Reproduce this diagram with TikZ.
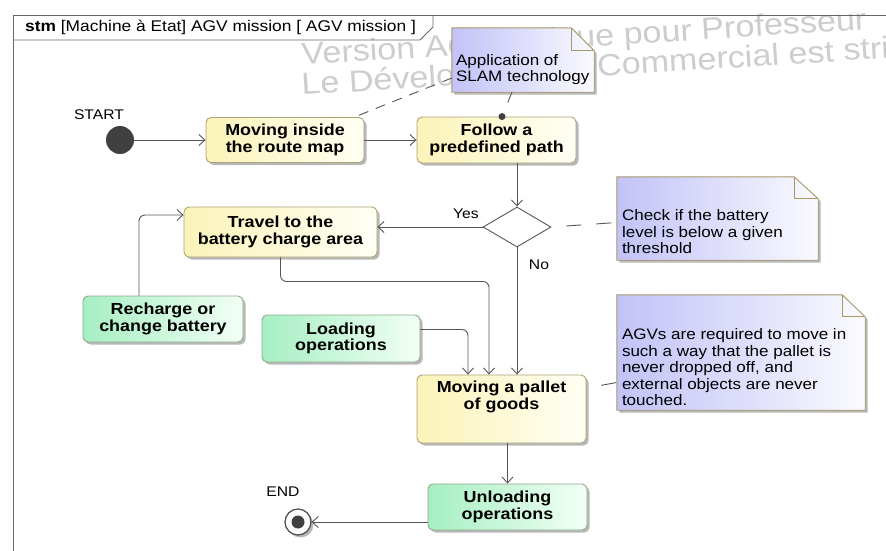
\documentclass[tikz,border=0pt]{standalone}
\usepackage{fontspec}
\newfontfamily\uifont{Liberation Sans}[FakeStretch=1.12]
\usetikzlibrary{arrows.meta,shapes.geometric,shadows,calc}
\definecolor{ln}{HTML}{555555}
\definecolor{frm}{HTML}{666666}
\definecolor{ylwL}{HTML}{FBF3B8}
\definecolor{ylwR}{HTML}{FFFFF4}
\definecolor{ylwB}{HTML}{ABA37A}
\definecolor{grnL}{HTML}{A6EFC2}
\definecolor{grnR}{HTML}{F2FFF6}
\definecolor{grnB}{HTML}{8FA98A}
\definecolor{noteL}{HTML}{C2C2F8}
\definecolor{noteR}{HTML}{FAFAFF}
\definecolor{noteB}{HTML}{A89868}
\definecolor{dot}{HTML}{404040}
\definecolor{wmc}{HTML}{CDCDCD}
\newcommand{\mystate}{\uifont\bfseries\fontsize{16}{16.7}\selectfont}
\newcommand{\mynote}{\uifont\fontsize{15.2}{16.5}\selectfont}
\newcommand{\mylabel}{\uifont\fontsize{14}{15}\selectfont}
\newcommand{\mytitle}{\uifont\fontsize{15.5}{16}\selectfont}
\newcommand{\mywm}{\uifont\fontsize{30.5}{30.5}\selectfont}
\begin{document}
\begin{tikzpicture}[x=1pt,y=-1pt,
  shd/.style={drop shadow={shadow xshift=2.5pt,shadow yshift=-2.5pt,opacity=0.28,fill=black}},
  st/.style={rounded corners=5pt,line width=0.9pt,align=center,font=\mystate,inner sep=0pt,shd},
  ylw/.style={st,draw=ylwB,left color=ylwL,right color=ylwR},
  grn/.style={st,draw=grnB,left color=grnL,right color=grnR},
  arr/.style={draw=ln,line width=0.9pt,-{Straight Barb[length=6pt,width=11pt]}},
  frame/.style={draw=frm,line width=0.9pt},
  notebox/.style={inner sep=0pt},
  notefill/.style={draw=noteB,line width=0.9pt,left color=noteL,right color=noteR,shd},
  notebd/.style={draw=noteB,line width=0.9pt},
  notetext/.style={font=\mynote,align=left,inner sep=0pt,anchor=south west},
  notelink/.style={draw=ln,line width=0.9pt,dash pattern=on 10pt off 8pt},
  lbl/.style={font=\mylabel,inner sep=0pt},
  wm/.style={font=\mywm,text=wmc,inner sep=0pt,anchor=base west,rotate=3.6}
]
\useasboundingbox (0,0) rectangle (886,550);
\fill[white] (0,0) rectangle (886,550);

% watermark
\node[wm] (wm1) at (302,65) {Version Académique pour Professeur};
\node[wm] (wm2) at (302,95) {Le Développement Commercial est strictement interdit};

% frame
\draw[frame] (13,560) -- (13,15) -- (900,15);
\draw[frame] (13,40) -- (420,40) -- (433,27) -- (433,15);
\node[anchor=base west,inner sep=0pt,font=\mytitle] (title) at (25,31) {\textbf{stm} [Machine à Etat] AGV mission [ AGV mission ]};

% start / end
\node[circle,fill=dot,minimum size=28pt,inner sep=0pt] (start) at (120,140) {};
\node[lbl] (startl) at (99,115) {START};
\node[circle,draw=ln,fill=white,line width=1.3pt,minimum size=26pt,inner sep=0pt,shd] (end) at (298,522) {};
\node[circle,fill=dot,minimum size=13pt,inner sep=0pt] (endin) at (end) {};
\node[lbl] (endl) at (283,492) {END};

% states
\node[ylw,minimum width=158pt,minimum height=45pt] (mov) at (285,140) {Moving inside\\the route map};
\node[ylw,minimum width=159pt,minimum height=46pt] (fol) at (496.5,140) {Follow a\\predefined path};
\node[ylw,minimum width=193pt,minimum height=50pt] (trav) at (280.5,232) {Travel to the\\battery charge area};
\node[grn,minimum width=160pt,minimum height=46pt] (rech) at (163,319) {Recharge or\\change battery};
\node[grn,minimum width=158pt,minimum height=47pt] (load) at (341,338.5) {Loading\\operations};
\node[ylw,minimum width=169pt,minimum height=68pt] (pall) at (501.5,409) {};
\node[font=\mystate,align=center,inner sep=0pt,anchor=north] (pallt) at ([yshift=-6pt]pall.north) {Moving a pallet\\of goods};
\node[grn,minimum width=159pt,minimum height=46pt] (unl) at (507.5,507) {Unloading\\operations};

% decision
\node[diamond,draw=ln,fill=white,line width=0.9pt,minimum width=68pt,minimum height=40pt,inner sep=0pt] (dia) at (517,227) {};
\node[lbl] (yes) at (466,214) {Yes};
\node[lbl] (no) at (539,265) {No};

% notes
\node[notebox,minimum width=142pt,minimum height=64pt] (n1) at (523,60) {};
\path[notefill] (n1.north west) -- ([xshift=-23pt]n1.north east) -- ([yshift=-23pt]n1.north east) -- (n1.south east) -- (n1.south west) -- cycle;
\draw[notebd] ([xshift=-23pt]n1.north east) -- ([xshift=-23pt,yshift=-23pt]n1.north east) -- ([yshift=-23pt]n1.north east);
\node[notetext] (n1t) at ([xshift=4pt,yshift=7pt]n1.south west) {Application of\\SLAM technology};

\node[notebox,minimum width=201pt,minimum height=83pt] (n2) at (717.5,218.5) {};
\path[notefill] (n2.north west) -- ([xshift=-24pt]n2.north east) -- ([yshift=-22pt]n2.north east) -- (n2.south east) -- (n2.south west) -- cycle;
\draw[notebd] ([xshift=-24pt]n2.north east) -- ([xshift=-24pt,yshift=-22pt]n2.north east) -- ([yshift=-22pt]n2.north east);
\node[notetext] (n2t) at ([xshift=5pt,yshift=6pt]n2.south west) {Check if the battery\\level is below a given\\threshold};

\node[notebox,minimum width=248pt,minimum height=115pt] (n3) at (741,352.5) {};
\path[notefill] (n3.north west) -- ([xshift=-23pt]n3.north east) -- ([yshift=-22pt]n3.north east) -- (n3.south east) -- (n3.south west) -- cycle;
\draw[notebd] ([xshift=-23pt]n3.north east) -- ([xshift=-23pt,yshift=-22pt]n3.north east) -- ([yshift=-22pt]n3.north east);
\node[notetext] (n3t) at ([xshift=5pt,yshift=4pt]n3.south west) {AGVs are required to move in\\such a way that the pallet is\\never dropped off, and\\external objects are never\\touched.};

% note links
\draw[notelink] ([yshift=-18pt]n1.west) -- ([xshift=-10pt]mov.north east);
\draw[notelink,dash pattern=on 11pt off 30pt] ([xshift=-11pt]n1.south) -- ([xshift=5.5pt]fol.north);
\node[circle,fill=dot,minimum size=7pt,inner sep=0pt] (foldot) at ([xshift=5.5pt]fol.north) {};
\draw[notelink,dash pattern=on 15pt off 15pt,dash phase=15pt] (dia.east) -- ([yshift=-4pt]n2.west);
\draw[notelink,dash pattern=on 15pt off 15pt,dash phase=15pt] ([yshift=21pt]pall.east) -- ([yshift=-30pt]n3.west);

% transitions
\draw[arr] (start) -- (start -| mov.west);
\draw[arr] (mov.east) -- (mov.east -| fol.west);
\draw[arr] (dia.north |- fol.south) -- (dia.north);
\draw[arr] (dia.west) -- (dia.west -| trav.east);
\draw[arr] (dia.south) -- (dia.south |- pall.north);
\draw[arr,rounded corners=6pt] ([xshift=-24pt]rech.north) |- ([yshift=17pt]trav.west);
\draw[arr,rounded corners=6pt] (trav.south) -- ++(0,24) -| ([xshift=-12.5pt]pall.north);
\draw[arr,rounded corners=6pt] ([yshift=9pt]load.east) -| ([xshift=-33.5pt]pall.north);
\draw[arr] (unl.north |- pall.south) -- (unl.north);
\draw[arr] (end.east -| unl.west) -- (end.east);
\end{tikzpicture}
\end{document}
